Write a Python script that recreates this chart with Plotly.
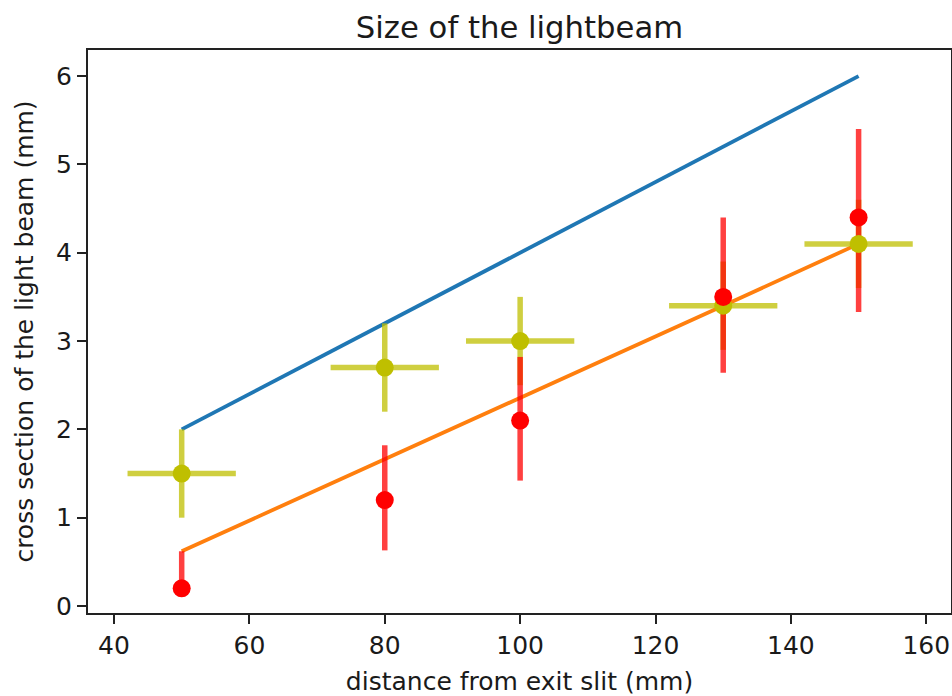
import plotly.graph_objects as go

# ---- data ----
distance = [50, 80, 100, 130, 150]
upper_line = [2.0, 3.2, 4.0, 5.2, 6.0]
lower_line = [0.62, 1.66, 2.36, 3.40, 4.10]

red_y = [0.2, 1.2, 2.1, 3.5, 4.4]
red_err_plus = [0.42, 0.62, 0.72, 0.9, 1.0]
red_err_minus = [0.0, 0.57, 0.68, 0.86, 1.07]

yel_y = [1.5, 2.7, 3.0, 3.4, 4.1]
yel_xerr = [8, 8, 8, 8, 8]
yel_yerr = [0.5, 0.5, 0.5, 0.5, 0.5]

x_ticks = [40, 60, 80, 100, 120, 140, 160]
y_ticks = [0, 1, 2, 3, 4, 5, 6]

FONT = "DejaVu Sans"
TXT = "#1a1a1a"

fig = go.Figure()

fig.add_trace(go.Scatter(x=distance, y=upper_line, mode="lines",
                         line=dict(color="#1f77b4", width=3.8), showlegend=False))
fig.add_trace(go.Scatter(x=distance, y=lower_line, mode="lines",
                         line=dict(color="#ff7f0e", width=3.8), showlegend=False))

# yellow error bars only
fig.add_trace(go.Scatter(
    x=distance, y=yel_y, mode="markers",
    marker=dict(size=1, color="rgba(0,0,0,0)"),
    error_x=dict(type="data", array=yel_xerr, color="rgba(191,191,0,0.75)", thickness=5.5, width=0),
    error_y=dict(type="data", array=yel_yerr, color="rgba(191,191,0,0.75)", thickness=5.5, width=0),
    showlegend=False))

# red error bars only
fig.add_trace(go.Scatter(
    x=distance, y=red_y, mode="markers",
    marker=dict(size=1, color="rgba(0,0,0,0)"),
    error_y=dict(type="data", symmetric=False, array=red_err_plus, arrayminus=red_err_minus,
                 color="rgba(255,0,0,0.75)", thickness=5.5, width=0),
    showlegend=False))

# markers
fig.add_trace(go.Scatter(x=distance, y=yel_y, mode="markers",
                         marker=dict(size=18, color="#bfbf00", line=dict(width=0)),
                         showlegend=False))
fig.add_trace(go.Scatter(x=distance, y=red_y, mode="markers",
                         marker=dict(size=18, color="#ff0000", line=dict(width=0)),
                         showlegend=False))

axis_common = dict(
    showgrid=False, zeroline=False, showline=True, mirror=True,
    linecolor="#222222", linewidth=2, automargin=False,
    ticks="outside", ticklen=9, tickwidth=2, tickcolor="#222222",
    tickfont=dict(family=FONT, size=25, color=TXT),
)

fig.update_layout(
    width=952, height=696,
    margin=dict(l=88, r=1, t=50, b=83),
    paper_bgcolor="white", plot_bgcolor="white",
    title=dict(text="Size of the lightbeam", x=(88 + 951) / 2 / 952, xanchor="center",
               yref="container", y=1 - 27 / 696, yanchor="middle",
               font=dict(family=FONT, size=30.7, color=TXT)),
    xaxis=dict(range=[36.16, 163.65], tickmode="array", tickvals=x_ticks,
               ticktext=[str(v) for v in x_ticks],
               title=dict(text="distance from exit slit (mm)", standoff=13,
                          font=dict(family=FONT, size=25, color=TXT)),
               **axis_common),
    yaxis=dict(range=[-0.079, 6.295], tickmode="array", tickvals=y_ticks,
               ticktext=[str(v) for v in y_ticks],
               title=dict(text="cross section of the light beam (mm)", standoff=15,
                          font=dict(family=FONT, size=25, color=TXT)),
               **axis_common),
)

fig.write_html("out.html", config={"displayModeBar": False})

# remove the default page margin so the figure fills the window exactly
with open("out.html", "r", encoding="utf-8") as f:
    html = f.read()
html = html.replace("<head>", "<head><style>html,body{margin:0;padding:0;overflow:hidden;}</style>", 1)
with open("out.html", "w", encoding="utf-8") as f:
    f.write(html)
